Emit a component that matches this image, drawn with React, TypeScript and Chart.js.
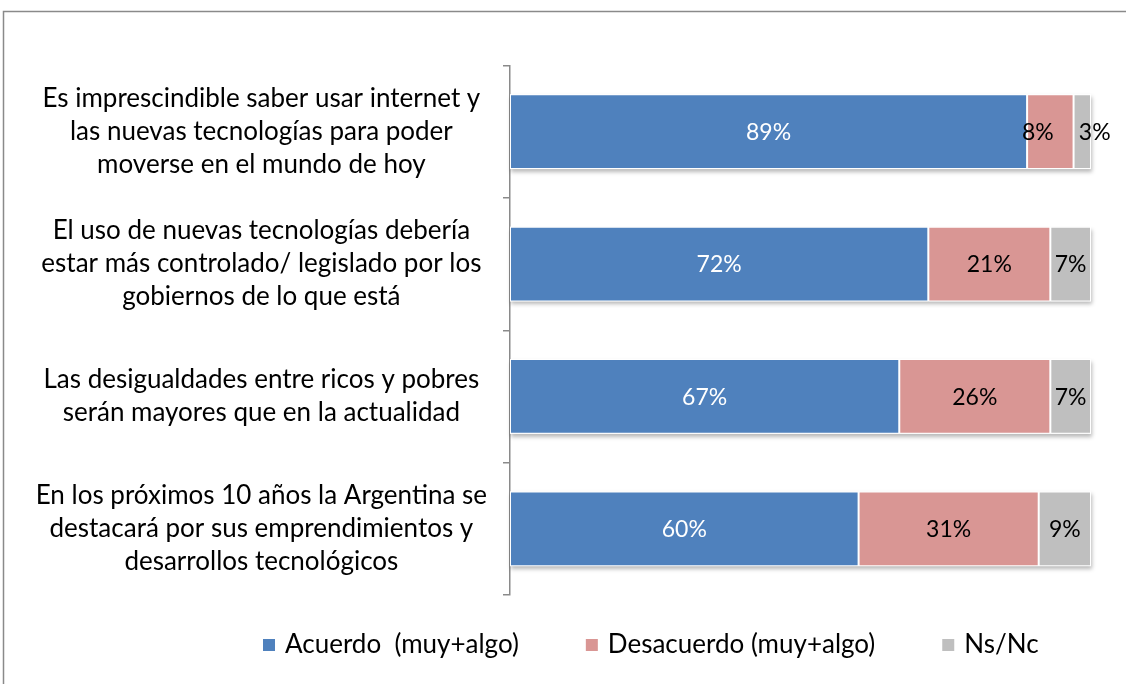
import React, { useEffect, useRef } from 'react';
import { Chart, registerables } from 'chart.js';

Chart.register(...registerables);

const categories: string[][] = [
  ['Es imprescindible saber usar internet y', 'las nuevas tecnologías para poder', 'moverse en el mundo de hoy'],
  ['El uso de nuevas tecnologías debería', 'estar más controlado/ legislado por los', 'gobiernos de lo que está'],
  ['Las desigualdades entre ricos y pobres', 'serán mayores que en la actualidad'],
  ['En los próximos 10 años la Argentina se', 'destacará por sus emprendimientos y', 'desarrollos tecnológicos'],
];
const seriesNames = ['Acuerdo  (muy+algo)', 'Desacuerdo (muy+algo)', 'Ns/Nc'];
const acuerdo = [89, 72, 67, 60];
const desacuerdo = [8, 21, 26, 31];
const nsnc = [3, 7, 7, 9];
const seriesColors = ['#4F81BD', '#D99694', '#BFBFBF'];
const valueColors = ['#FFFFFF', '#000000', '#000000'];

const FONT = 'Lato, "Open Sans", sans-serif';

const borderPlugin = {
  id: 'outerBorder',
  beforeDraw(chart: any) {
    const ctx = chart.ctx;
    ctx.save();
    ctx.strokeStyle = '#8A8A8A';
    ctx.lineWidth = 1.5;
    ctx.strokeRect(3.5, 11.5, 2000, 2000);
    ctx.restore();
  },
};

const shadowPlugin = {
  id: 'barShadow',
  beforeDatasetsDraw(chart: any) {
    const ctx = chart.ctx;
    const n = chart.data.labels.length;
    const metas = chart.data.datasets.map((_: any, d: number) => chart.getDatasetMeta(d));
    ctx.save();
    ctx.shadowColor = 'rgba(0,0,0,0.28)';
    ctx.shadowBlur = 4;
    ctx.shadowOffsetX = 1;
    ctx.shadowOffsetY = 3;
    ctx.fillStyle = '#FFFFFF';
    for (let i = 0; i < n; i++) {
      const first = metas[0].data[i];
      const last = metas[metas.length - 1].data[i];
      const x0 = first.base;
      const x1 = last.x;
      const h = first.height;
      ctx.fillRect(x0, first.y - h / 2, x1 - x0, h);
    }
    ctx.restore();
  },
};

const valueLabelsPlugin = {
  id: 'valueLabels',
  afterDatasetsDraw(chart: any) {
    const ctx = chart.ctx;
    const n = chart.data.labels.length;
    ctx.save();
    ctx.font = `23px ${FONT}`;
    ctx.textAlign = 'center';
    ctx.textBaseline = 'middle';
    const minGap = 25;
    for (let i = 0; i < n; i++) {
      const items = chart.data.datasets.map((ds: any, d: number) => {
        const el = chart.getDatasetMeta(d).data[i];
        const text = `${ds.data[i]}%`;
        return { text, c: (el.x + el.base) / 2, y: el.y, w: ctx.measureText(text).width, color: valueColors[d] };
      });
      for (let pass = 0; pass < 4; pass++) {
        for (let k = 0; k < items.length - 1; k++) {
          const a = items[k];
          const b = items[k + 1];
          const gap = b.c - b.w / 2 - (a.c + a.w / 2);
          if (gap < minGap) {
            const d = minGap - gap;
            a.c -= d / 2;
            b.c += d / 2;
          }
        }
      }
      items.forEach((it: any) => {
        ctx.fillStyle = it.color;
        ctx.fillText(it.text, it.c, it.y + 1);
      });
    }
    ctx.restore();
  },
};

const legendPlugin = {
  id: 'customLegend',
  afterDraw(chart: any) {
    const ctx = chart.ctx;
    ctx.save();
    ctx.font = `26px ${FONT}`;
    ctx.textBaseline = 'middle';
    ctx.textAlign = 'left';
    const y = 645;
    let x = 263;
    seriesNames.forEach((name, i) => {
      ctx.fillStyle = seriesColors[i];
      ctx.fillRect(x, y - 6, 12, 12);
      x += 12 + 10;
      ctx.fillStyle = '#000000';
      ctx.fillText(name, x, y);
      x += ctx.measureText(name).width + 67;
    });
    ctx.restore();
  },
};

export default function App() {
  const ref = useRef<HTMLCanvasElement | null>(null);

  useEffect(() => {
    if (!ref.current) return;
    const chart = new Chart(ref.current, {
      type: 'bar',
      data: {
        labels: categories as any,
        datasets: [
          { label: seriesNames[0], data: acuerdo, backgroundColor: seriesColors[0] },
          { label: seriesNames[1], data: desacuerdo, backgroundColor: seriesColors[1] },
          { label: seriesNames[2], data: nsnc, backgroundColor: seriesColors[2] },
        ].map((d) => ({
          ...d,
          borderColor: '#FFFFFF',
          borderWidth: 1,
          borderSkipped: false,
          categoryPercentage: 1,
          barPercentage: 0.565,
        })),
      },
      options: {
        indexAxis: 'y',
        animation: false,
        responsive: false,
        devicePixelRatio: 1,
        layout: { padding: { top: 62, right: 35, bottom: 89, left: 0 } },
        plugins: {
          legend: { display: false },
          tooltip: { enabled: false },
        },
        scales: {
          x: {
            stacked: true,
            min: 0,
            max: 100,
            display: false,
          },
          y: {
            stacked: true,
            afterFit: (scale: any) => {
              scale.width = 510;
            },
            border: { display: true, color: '#8A8A8A', width: 1.5 },
            grid: {
              drawOnChartArea: false,
              drawTicks: true,
              tickLength: 7,
              color: '#8A8A8A',
              lineWidth: 1.5,
            },
            ticks: {
              crossAlign: 'center',
              padding: 16,
              color: '#000000',
              font: { family: FONT, size: 26, lineHeight: '33px' as any },
            },
          },
        },
      },
      plugins: [borderPlugin, shadowPlugin, valueLabelsPlugin, legendPlugin],
    });
    return () => chart.destroy();
  }, []);

  return (
    <div style={{ position: 'absolute', left: 0, top: 0, width: 1126, height: 684, background: '#fff' }}>
      <canvas ref={ref} width={1126} height={684} style={{ display: 'block', width: 1126, height: 684 }} />
    </div>
  );
}
